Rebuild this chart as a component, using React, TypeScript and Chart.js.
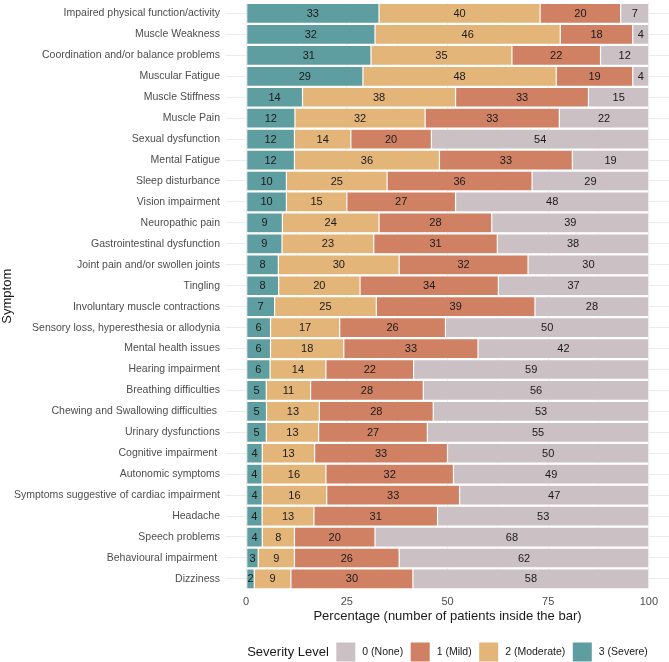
import { Chart, registerables, Plugin } from "chart.js";
import { useEffect, useRef } from "react";

Chart.register(...registerables);

const symptoms = [
  "Impaired physical function/activity",
  "Muscle Weakness",
  "Coordination and/or balance problems",
  "Muscular Fatigue",
  "Muscle Stiffness",
  "Muscle Pain",
  "Sexual dysfunction",
  "Mental Fatigue",
  "Sleep disturbance",
  "Vision impairment",
  "Neuropathic pain",
  "Gastrointestinal dysfunction",
  "Joint pain and/or swollen joints",
  "Tingling",
  "Involuntary muscle contractions",
  "Sensory loss, hyperesthesia or allodynia",
  "Mental health issues",
  "Hearing impairment",
  "Breathing difficulties",
  "Chewing and Swallowing difficulties ",
  "Urinary dysfunctions",
  "Cognitive impairment ",
  "Autonomic symptoms",
  "Symptoms suggestive of cardiac impairment",
  "Headache",
  "Speech problems",
  "Behavioural impairment ",
  "Dizziness",
];

// patient counts per severity level
const severe = [33, 32, 31, 29, 14, 12, 12, 12, 10, 10, 9, 9, 8, 8, 7, 6, 6, 6, 5, 5, 5, 4, 4, 4, 4, 4, 3, 2];
const moderate = [40, 46, 35, 48, 38, 32, 14, 36, 25, 15, 24, 23, 30, 20, 25, 17, 18, 14, 11, 13, 13, 13, 16, 16, 13, 8, 9, 9];
const mild = [20, 18, 22, 19, 33, 33, 20, 33, 36, 27, 28, 31, 32, 34, 39, 26, 33, 22, 28, 28, 27, 33, 32, 33, 31, 20, 26, 30];
const none = [7, 4, 12, 4, 15, 22, 54, 19, 29, 48, 39, 38, 30, 37, 28, 50, 42, 59, 56, 53, 55, 50, 49, 47, 53, 68, 62, 58];

const levelNames = ["3 (Severe)", "2 (Moderate)", "1 (Mild)", "0 (None)"];
const levelColors = ["#5f9ea0", "#e3b579", "#d08163", "#cbc0c4"];
const xTicks = [0, 12.5, 25, 37.5, 50, 62.5, 75, 87.5, 100];

const FONT = "'Liberation Sans', Arial, sans-serif";

const SymptomChart = () => {
  const chartRef = useRef<HTMLCanvasElement>(null);
  const chartInstance = useRef<Chart | null>(null);

  useEffect(() => {
    document.body.style.margin = "0";
    if (!chartRef.current) return;

    const counts = [severe, moderate, mild, none];
    const totals = symptoms.map((_, i) => counts.reduce((s, c) => s + c[i], 0));

    const barLabels: Plugin<"bar"> = {
      id: "barLabels",
      afterDatasetsDraw(chart) {
        const ctx = chart.ctx;
        ctx.save();
        ctx.font = `11px ${FONT}`;
        ctx.fillStyle = "#1a1a1a";
        ctx.textAlign = "center";
        ctx.textBaseline = "middle";
        chart.data.datasets.forEach((_, di) => {
          const meta = chart.getDatasetMeta(di);
          meta.data.forEach((el: any, i) => {
            const cx = (el.x + el.base) / 2;
            ctx.fillText(String(counts[di][i]), cx, el.y + 0.5);
          });
        });
        ctx.restore();
      },
    };

    const severityLegend: Plugin<"bar"> = {
      id: "severityLegend",
      afterDraw(chart) {
        const ctx = chart.ctx;
        const y = chart.height - 10;
        const title = "Severity Level";
        ctx.save();
        ctx.textBaseline = "middle";
        ctx.font = `13px ${FONT}`;
        const titleW = ctx.measureText(title).width;
        ctx.font = `10.5px ${FONT}`;
        const items = [...levelNames].reverse();
        const colors = [...levelColors].reverse();
        const box = 19;
        const widths = items.map((t) => ctx.measureText(t).width);
        let total = titleW + 7.5;
        widths.forEach((w) => (total += box + 7 + w + 7.5));
        total -= 7.5;
        const center = (chart.chartArea.left + chart.chartArea.right) / 2;
        let x = center - total / 2;
        ctx.font = `13px ${FONT}`;
        ctx.fillStyle = "#1a1a1a";
        ctx.textAlign = "left";
        ctx.fillText(title, x, y);
        x += titleW + 7.5;
        ctx.font = `10.5px ${FONT}`;
        items.forEach((t, i) => {
          ctx.fillStyle = colors[i];
          ctx.fillRect(x, y - box / 2, box, box);
          x += box + 7;
          ctx.fillStyle = "#1a1a1a";
          ctx.fillText(t, x, y);
          x += widths[i] + 7.5;
        });
        ctx.restore();
      },
    };

    if (chartInstance.current) chartInstance.current.destroy();

    chartInstance.current = new Chart(chartRef.current, {
      type: "bar",
      data: {
        labels: symptoms,
        datasets: counts.map((c, di) => ({
          label: levelNames[di],
          data: c.map((v, i) => (v / totals[i]) * 100),
          backgroundColor: levelColors[di],
          borderColor: "#ffffff",
          borderWidth: 0.6,
          borderSkipped: false,
          barPercentage: 0.95,
          categoryPercentage: 1,
        })),
      },
      options: {
        indexAxis: "y",
        animation: false,
        responsive: true,
        maintainAspectRatio: false,
        layout: { padding: { top: 3, left: 0, right: 0, bottom: 37.6 } },
        plugins: {
          legend: { display: false },
          tooltip: { enabled: false },
        },
        scales: {
          x: {
            stacked: true,
            min: -5,
            max: 105,
            afterBuildTicks: (scale) => {
              scale.ticks = xTicks.map((v) => ({ value: v }));
            },
            afterFit: (scale) => {
              scale.height = 35;
            },
            border: { display: false },
            grid: {
              color: "#ebebeb",
              lineWidth: (ctx: any) => (ctx.tick && ctx.tick.value % 25 === 0 ? 1.1 : 0.55),
              drawTicks: false,
            },
            ticks: {
              padding: 6,
              color: "#4d4d4d",
              font: { family: FONT, size: 11 },
              maxRotation: 0,
              callback: (v) => (Number(v) % 25 === 0 ? String(v) : ""),
            },
            title: {
              display: true,
              text: "Percentage (number of patients inside the bar)",
              color: "#1a1a1a",
              font: { family: FONT, size: 13 },
              padding: { top: 0, bottom: 0 },
            },
          },
          y: {
            stacked: true,
            afterFit: (scale: any) => {
              scale.width = 226;
              scale.paddingTop = 0;
              scale.paddingBottom = 0;
            },
            border: { display: false },
            grid: {
              color: "#ebebeb",
              lineWidth: 1.1,
              offset: false,
              drawTicks: false,
            },
            ticks: {
              padding: 6,
              color: "#4d4d4d",
              autoSkip: false,
              font: { family: FONT, size: 10.5 },
            },
            title: {
              display: true,
              text: "Symptom",
              color: "#1a1a1a",
              font: { family: FONT, size: 13 },
              padding: { top: 0, bottom: 0 },
            },
          },
        },
      },
      plugins: [barLabels, severityLegend],
    });

    return () => {
      if (chartInstance.current) {
        chartInstance.current.destroy();
        chartInstance.current = null;
      }
    };
  }, []);

  return (
    <div style={{ width: 669, height: 662, position: "relative" }}>
      <canvas ref={chartRef} />
    </div>
  );
};

export default function App() {
  return <SymptomChart />;
}
